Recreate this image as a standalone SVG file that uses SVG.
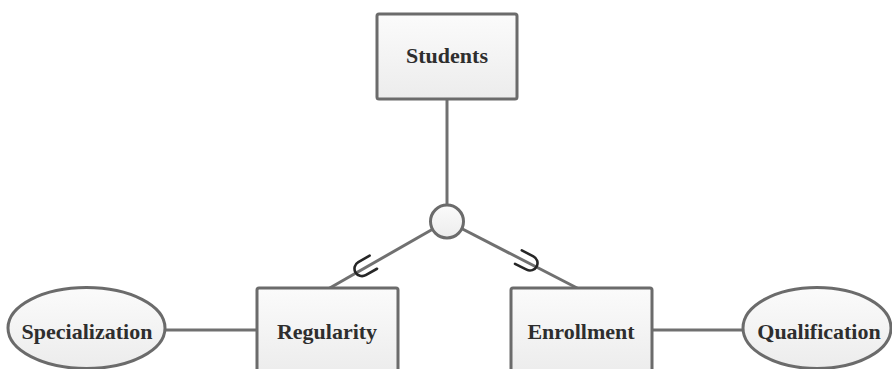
<svg xmlns="http://www.w3.org/2000/svg" width="892" height="369" viewBox="0 0 892 369">
<defs>
<linearGradient id="g" x1="0" y1="0" x2="0" y2="1">
<stop offset="0" stop-color="#fbfbfb"/>
<stop offset="1" stop-color="#ececec"/>
</linearGradient>
</defs>
<style>
.box{fill:url(#g);stroke:#6b6b6b;stroke-width:3}
.conn{stroke:#707070;stroke-width:3;fill:none}
.sub{stroke:#262626;stroke-width:2.6;fill:none;stroke-linecap:round}
.t{font-family:"Liberation Serif","Times New Roman",serif;font-weight:bold;font-size:22px;fill:#2e2e2e;text-anchor:middle}
</style>
<rect width="892" height="369" fill="#ffffff"/>
<g id="connectors">
<line class="conn" x1="447" y1="99" x2="447" y2="205"/>
<line class="conn" x1="447" y1="221" x2="328" y2="289"/>
<line class="conn" x1="447" y1="221" x2="579" y2="289"/>
<line class="conn" x1="165" y1="330" x2="257" y2="330"/>
<line class="conn" x1="652" y1="330" x2="743" y2="330"/>
<path class="sub" transform="translate(362,268.6) rotate(150.6)" d="M-13,-7.5 L0,-7.5 A7.5 7.5 0 0 1 0,7.5 L-13,7.5"/>
<path class="sub" transform="translate(530,263) rotate(26.9)" d="M-13,-7.5 L0,-7.5 A7.5 7.5 0 0 1 0,7.5 L-13,7.5"/>
</g>
<g id="students">
<rect class="box" x="377" y="14" width="140" height="85" rx="2"/>
<text class="t" x="447" y="63">Students</text>
</g>
<g id="disjoint">
<circle class="box" cx="447" cy="221.5" r="16.5"/>
</g>
<g id="regularity">
<rect class="box" x="257" y="288" width="141" height="86" rx="2"/>
<text class="t" x="327" y="339">Regularity</text>
</g>
<g id="enrollment">
<rect class="box" x="511" y="288" width="141" height="86" rx="2"/>
<text class="t" x="581" y="339">Enrollment</text>
</g>
<g id="specialization">
<ellipse class="box" cx="86.5" cy="328" rx="78.5" ry="40.5"/>
<text class="t" x="87" y="339">Specialization</text>
</g>
<g id="qualification">
<ellipse class="box" cx="817" cy="328" rx="74" ry="40.5"/>
<text class="t" x="819" y="339">Qualification</text>
</g>
</svg>
